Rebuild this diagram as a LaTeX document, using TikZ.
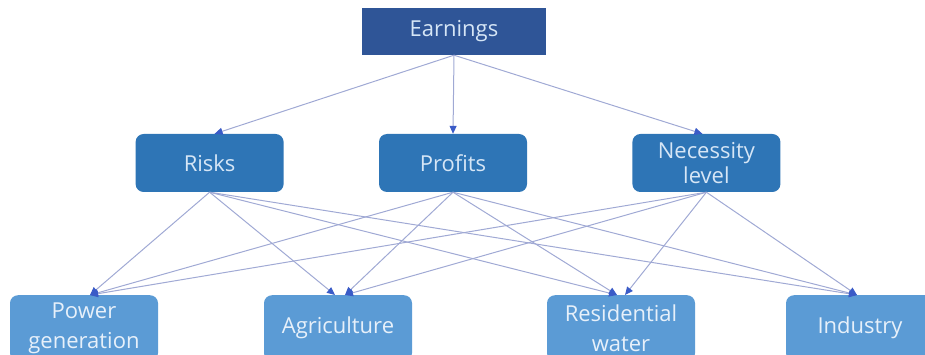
\documentclass[tikz,border=0pt]{standalone}
\usepackage{fontspec}
\setmainfont{Open Sans}
\usepackage{xcolor}
\usetikzlibrary{arrows.meta,positioning}

\definecolor{navy}{HTML}{2F5597}
\definecolor{midblue}{HTML}{2E75B6}
\definecolor{lowblue}{HTML}{5B9BD5}
\definecolor{linkgray}{HTML}{A0A9D4}
\definecolor{tipblue}{HTML}{3A5BC7}
\definecolor{paleblue}{HTML}{D6E6F6}

\begin{document}
\begin{tikzpicture}[x=1pt, y=-1pt,
  topbox/.style={fill=navy, text=paleblue, minimum width=184pt, minimum height=47pt, font=\fontsize{22}{25}\selectfont},
  midbox/.style={fill=midblue, text=paleblue, rounded corners=8pt, minimum width=148pt, minimum height=58pt, inner sep=2pt, align=center, font=\fontsize{22}{25}\selectfont},
  lowbox/.style={fill=lowblue, text=paleblue!60!white, rounded corners=8pt, minimum width=148pt, minimum height=66pt, inner sep=2pt, anchor=north, align=center, font=\fontsize{22}{30}\selectfont},
  arr/.style={draw=linkgray, line width=1pt, -{Triangle[length=8pt, width=7pt, color=tipblue]}}
]
\useasboundingbox (0,0) rectangle (925,355);

\node[topbox] (earn) at (454,31.5) {Earnings};
\node[midbox] (profits) at (453,163) {Profits};
\node[midbox, left=95pt of profits] (risks) {Risks};
\node[midbox, right=105pt of profits] (necessity) {Necessity\\level};

\node[lowbox] (power) at (84,295) {Power\\generation};
\node[lowbox] (agri) at (338,295) {Agriculture};
\node[lowbox] (resid) at (621,295) {Residential\\water};
\node[lowbox] (industry) at (860,295) {Industry};

\draw[arr] (earn.south) -- ([xshift=5pt]risks.north);
\draw[arr] (earn.south) -- (profits.north);
\draw[arr] (earn.south) -- ([xshift=-4pt]necessity.north);

\coordinate (powerIn) at ([xshift=6pt]power.north);
\coordinate (agriL) at ([xshift=-3pt]agri.north);
\coordinate (agriR) at ([xshift=7pt]agri.north);
\coordinate (residL) at ([xshift=-4pt]resid.north);
\coordinate (residR) at ([xshift=4pt]resid.north);
\coordinate (industryIn) at ([xshift=-3pt]industry.north);

\foreach \src/\dst in {risks/powerIn, risks/agriL, risks/residL, risks/industryIn,
    profits/powerIn, profits/agriR, profits/residL, profits/industryIn,
    necessity/powerIn, necessity/agriR, necessity/residR, necessity/industryIn}
  \draw[arr] (\src.south) -- (\dst);
\end{tikzpicture}
\end{document}
